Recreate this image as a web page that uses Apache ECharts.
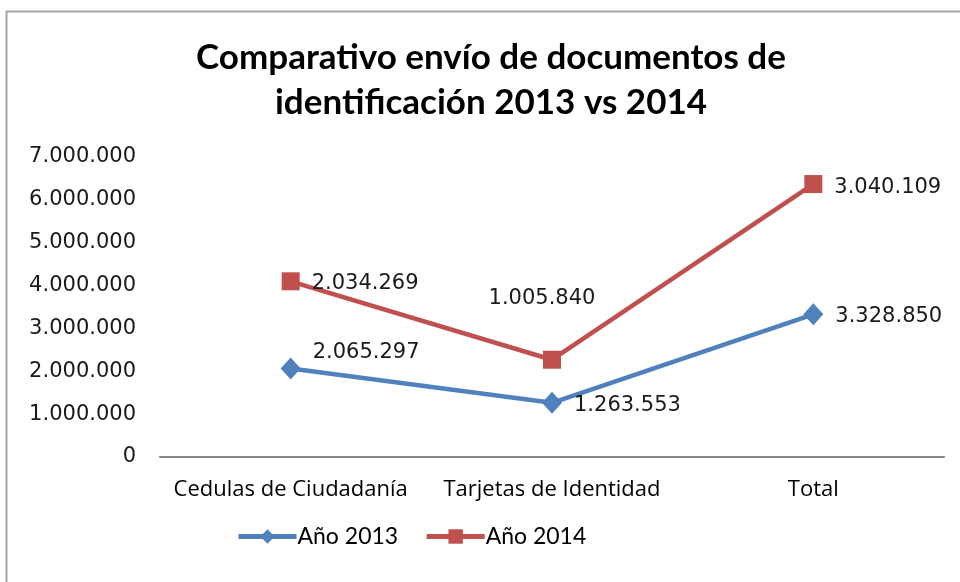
<!DOCTYPE html>
<html><head><meta charset="utf-8">
<script src="https://cdn.jsdelivr.net/npm/echarts@6/dist/echarts.min.js"></script>
<style>html,body{margin:0;padding:0;background:#fff}#c{width:960px;height:582px}</style>
</head><body><div id="c"></div>
<script>
const categories = ['Cedulas de Ciudadanía', 'Tarjetas de Identidad', 'Total'];
const seriesNames = ['Año 2013', 'Año 2014'];
const values2013 = [2065297, 1263553, 3328850];
const values2014 = [2034269, 1005840, 3040109];
const yTicks = [0, 1000000, 2000000, 3000000, 4000000, 5000000, 6000000, 7000000];

function fmt(v){ return String(v).replace(/\B(?=(\d{3})+(?!\d))/g, '.'); }

// label placement per point (offsets only)
const labelOffsets2013 = [[0,-16],[0,3],[0,2]];
const labelOffsets2014 = [[0,2],[-1,-1],[0,4]];

const labelFont = {fontFamily:'DejaVu Sans', fontSize:21, color:'#1a1a1a'};
function build(vals, offs, special){
  return vals.map((v,i)=>{
    if (special && special[i]) return {value:v, label:special[i]};
    return {value:v, label:{position:'right', distance:12, offset:offs[i]}};
  });
}

const chart = echarts.init(document.getElementById('c'));
chart.setOption({
  animation:false,
  backgroundColor:'#fff',
  title:{
    text:'Comparativo envío de documentos de\nidentificación 2013 vs 2014',
    left:486, top:30, textAlign:'center',
    textStyle:{fontFamily:'Lato', fontWeight:'bold', fontSize:35, lineHeight:45, color:'#000'}
  },
  graphic:[
    {type:'line', shape:{x1:6.5,y1:11,x2:6.5,y2:582}, style:{stroke:'#a6a6a6', lineWidth:2}},
    {type:'line', shape:{x1:6,y1:11.5,x2:960,y2:11.5}, style:{stroke:'#a6a6a6', lineWidth:2}}
  ],
  legend:{
    data:seriesNames, left:231, top:520, itemWidth:58, itemHeight:18, itemGap:26,
    lineStyle:{width:5},
    textStyle:{fontFamily:'Lato', fontSize:23, color:'#000', padding:[0,0,0,-4]}
  },
  grid:{left:160, right:16, top:157, bottom:125},
  xAxis:{
    type:'category', data:categories, boundaryGap:true,
    axisLine:{lineStyle:{color:'#868686', width:2}},
    axisTick:{show:false},
    axisLabel:{interval:0, fontFamily:'Open Sans', fontSize:22, color:'#000', margin:22}
  },
  yAxis:{
    type:'value', min:0, max:7000000, interval:1000000,
    axisLine:{show:false}, axisTick:{show:false}, splitLine:{show:false},
    axisLabel:{formatter:v=>fmt(v), fontFamily:'DejaVu Sans', fontSize:21, color:'#1a1a1a', margin:24}
  },
  series:[
    {name:seriesNames[0], type:'line', stack:'t',
     data:build(values2013, labelOffsets2013),
     symbol:'diamond', symbolSize:[20,22], color:'#4F81BD',
     lineStyle:{width:4.5, color:'#4F81BD'}, itemStyle:{color:'#4F81BD'},
     label:{show:true, formatter:p=>fmt(p.value), ...labelFont}},
    {name:seriesNames[1], type:'line', stack:'t',
     data:build(values2014, labelOffsets2014, {1:{position:'top', distance:0, offset:[-10,-42]}}),
     symbol:'rect', symbolSize:18, color:'#C0504D',
     lineStyle:{width:4.5, color:'#C0504D'}, itemStyle:{color:'#C0504D'},
     label:{show:true, formatter:p=>fmt(p.value), ...labelFont}}
  ]
});
</script></body></html>
